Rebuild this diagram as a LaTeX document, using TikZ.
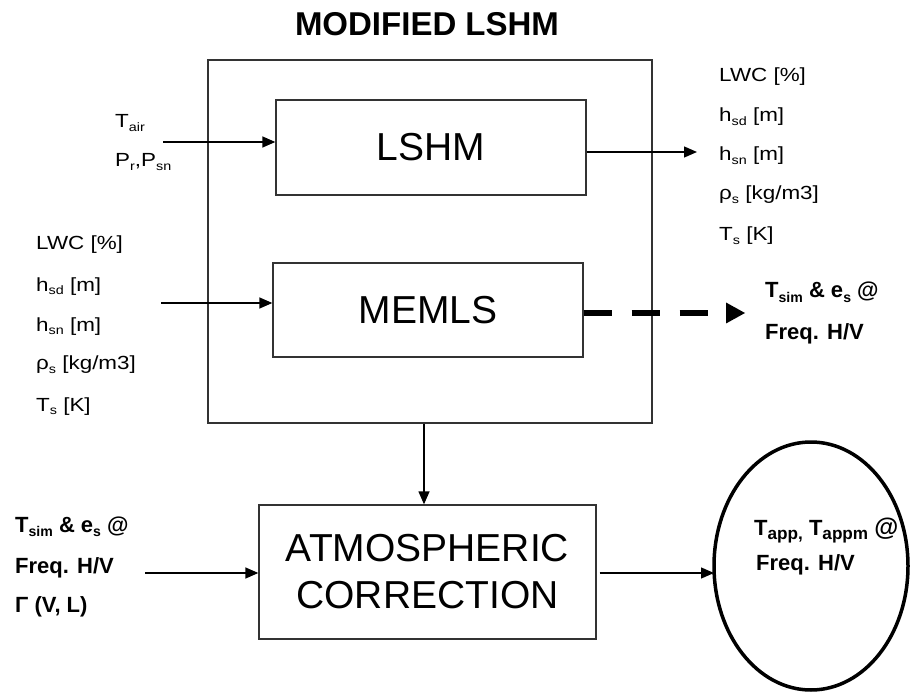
\documentclass[tikz,border=0pt]{standalone}
\usepackage{fontspec}
\usepackage{graphicx}
\setmainfont{Liberation Sans}
\newfontfamily\widefont[FakeStretch=1.18]{Liberation Sans}
\usetikzlibrary{arrows.meta,shapes.geometric}
\newcommand{\lowsub}[1]{\raisebox{-0.35ex}{\scalebox{0.64}{#1}}}
\newcommand{\bigsub}[1]{\raisebox{-0.35ex}{\scalebox{0.78}{#1}}}
\begin{document}
\begin{tikzpicture}[x=1pt,y=-1pt,
  box/.style={draw=black!80, line width=1.3pt, inner sep=0pt},
  arr/.style={line width=1.3pt, -{Triangle[length=13pt,width=11pt]}},
  lab/.style={anchor=base west, inner sep=0pt, font=\fontsize{19}{19}\widefont},
  blab/.style={anchor=base west, inner sep=0pt, font=\fontsize{22}{22}\selectfont\bfseries},
  big/.style={font=\fontsize{39}{47}\selectfont, align=center}]
\useasboundingbox (0,0) rectangle (911,695);

\node[font=\fontsize{33}{33}\selectfont\bfseries] (title) at (427,24) {MODIFIED LSHM};
\node[box, minimum width=444pt, minimum height=363pt] (outer) at (430,241.5) {};
\node[box, big, minimum width=310pt, minimum height=95pt] (lshm) at (431,147.5) {LSHM};
\node[box, big, minimum width=310pt, minimum height=94pt] (memls) at (428,310) {MEMLS};
\node[box, big, minimum width=337pt, minimum height=134pt] (atm) at (427.5,572) {ATMOSPHERIC\\CORRECTION};
\node[draw, ellipse, line width=3.5pt, minimum width=194pt, minimum height=248pt, inner sep=0pt] (ell) at (811,566) {};

% left top inputs
\node[lab] (tair) at (115,128) {T\lowsub{air}};
\node[lab] (prpsn) at (115,167) {P\lowsub{r},P\lowsub{sn}};

% left list
\node[lab] (l1) at (36,250) {LWC [\%]};
\node[lab] (l2) at (36,291) {h\lowsub{sd} [m]};
\node[lab] (l3) at (36,331) {h\lowsub{sn} [m]};
\node[lab] (l4) at (36,370) {ρ\lowsub{s} [kg/m3]};
\node[lab] (l5) at (36,411) {T\lowsub{s} [K]};

% right list
\node[lab] (r1) at (719,82) {LWC [\%]};
\node[lab] (r2) at (719,122) {h\lowsub{sd} [m]};
\node[lab] (r3) at (719,161) {h\lowsub{sn} [m]};
\node[lab] (r4) at (719,200) {ρ\lowsub{s} [kg/m3]};
\node[lab] (r5) at (719,241) {T\lowsub{s} [K]};

% dashed output label
\node[blab] (d1) at (765,298) {T\lowsub{sim} \& e\lowsub{s} @};
\node[blab] (d2) at (765,340) {Freq. H/V};

% bottom left
\node[blab] (b1) at (15,532) {T\lowsub{sim} \& e\lowsub{s} @};
\node[blab] (b2) at (15,573) {Freq. H/V};
\node[blab] (b3) at (15,612) {Γ (V, L)};

% ellipse text
\node[blab] (e1) at (754,535) {T\bigsub{app,} T\bigsub{appm} \raisebox{-0.05ex}{\scalebox{1.12}{@}}};
\node[blab] (e2) at (756,570) {Freq. H/V};

% connectors
\coordinate (tin) at (163,142);
\draw[arr] (tin) -- (tin -| lshm.west);
\coordinate (tout) at (697,152);
\draw[arr] (tout -| lshm.east) -- (tout);
\coordinate (min) at (161,303);
\draw[arr] (min) -- (min -| memls.west);
\coordinate (dend) at (745,313);
\draw[line width=6pt, dash pattern=on 28pt off 20pt, -{Triangle[length=19pt,width=21pt,line width=0pt]}] (dend -| memls.east) -- (dend);
\coordinate (vd) at (424,0);
\draw[arr] (vd |- outer.south) -- (vd |- atm.north);
\coordinate (ain) at (145,573);
\draw[arr] (ain) -- (ain -| atm.west);
\coordinate (aout) at (714,573);
\draw[arr] ([xshift=3pt]atm.east |- ain) -- (aout);
\end{tikzpicture}
\end{document}
